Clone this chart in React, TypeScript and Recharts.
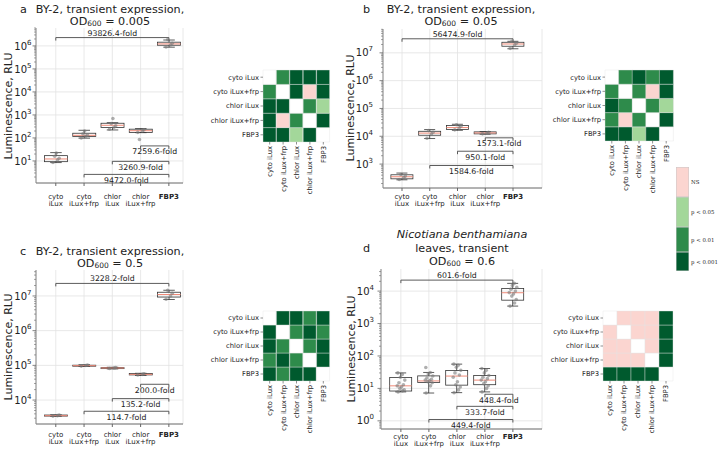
import React from 'react';
import {
  ComposedChart, Bar, Scatter, XAxis, YAxis, CartesianGrid, ReferenceLine,
  BarChart, Cell,
} from 'recharts';

const FONT = "'DejaVu Sans', sans-serif";
const INK = '#222222';
const GRID = '#e2e2e2';
const SPINE = '#666666';
const EDGE = '#333333';
const MEDIAN = '#f08a78';

/* ——— categories ——— */
const GROUPS = ['cyto iLux', 'cyto iLux+frp', 'chlor iLux', 'chlor iLux+frp', 'FBP3'];
const GROUP_LINES = [['cyto', 'iLux'], ['cyto', 'iLux+frp'], ['chlor', 'iLux'], ['chlor', 'iLux+frp'], ['FBP3']];

/* ——— box stats: [min, q1, median, q3, max] ——— */
const BOX_A = [
  [8.5, 9.3, 12.2, 17, 23],
  [98, 115, 130, 160, 215],
  [222, 283, 355, 435, 460],
  [170, 173, 206, 240, 255],
  [0.88e6, 1.07e6, 1.22e6, 1.45e6, 1.8e6],
];
const BOX_B = [
  [272, 295, 350, 412, 475],
  [8300, 10900, 13000, 15100, 17400],
  [16400, 17400, 20500, 24300, 27000],
  [11900, 12200, 13200, 14400, 14800],
  [1.4e7, 1.73e7, 2.08e7, 2.4e7, 2.6e7],
];
const BOX_C = [
  [3400, 3450, 3550, 3700, 3750],
  [93000, 95000, 98000, 101000, 104000],
  [79000, 81000, 84000, 86000, 88000],
  [51000, 53000, 55000, 58000, 59000],
  [7.9e6, 9.3e6, 1.1e7, 1.28e7, 1.46e7],
];
const BOX_D = [
  [7.8, 8.3, 12, 21.7, 30],
  [7.2, 15.1, 17, 24.3, 31],
  [7.4, 12.6, 24, 35.5, 56],
  [7.8, 13, 18, 25, 41],
  [3450, 5250, 8900, 12000, 17300],
];

/* ——— individual measurements ——— */
const PTS_A = [
  [8.5, 11, 13, 16, 22],
  [100, 118, 132, 150, 200],
  [240, 290, 340, 420, 700],
  [175, 200, 225, 85],
  [0.9e6, 1.1e6, 1.3e6, 1.9e6],
];
const PTS_B = [
  [280, 330, 370, 420],
  [8500, 12000, 14000, 16000],
  [17000, 20000, 23000, 26000],
  [12200, 13000, 13800],
  [1.45e7, 1.9e7, 2.2e7, 2.6e7],
];
const PTS_C = [
  [3450, 3550, 3700],
  [95000, 99000, 102000],
  [81000, 84000, 86000],
  [53000, 55000, 57000],
  [8e6, 1.0e7, 1.2e7, 1.45e7],
];
const PTS_D = [
  [7.8, 8.4, 9, 10, 11, 12, 13, 15, 18, 22, 27, 30],
  [7.2, 12, 15, 16, 17, 18, 19, 21, 24, 28, 31, 44],
  [7.4, 9, 11, 13, 16, 22, 26, 30, 36, 45, 52, 56],
  [7.8, 10, 12, 14, 16, 18, 20, 22, 25, 30, 36, 41],
  [3450, 4300, 5500, 7000, 8200, 9000, 10000, 11500, 13000, 15000, 17300],
];
const JITTER = [-0.1, 0.06, 0.12, -0.04, 0.02, -0.13, 0.09, -0.07, 0.14, -0.02, 0.05, -0.11];

/* ——— fold-change brackets ——— */
type Fold = { from: number; to: number; y: number; label: string; over?: boolean };
const FOLD_A: Fold[] = [
  { from: 0, to: 4, y: 2.3e6, label: '93826.4-fold', over: true },
  { from: 3, to: 4, y: 45, label: '7259.6-fold' },
  { from: 2, to: 4, y: 9.6, label: '3260.9-fold' },
  { from: 1, to: 4, y: 2.6, label: '9472.0-fold' },
];
const FOLD_B: Fold[] = [
  { from: 0, to: 4, y: 3.2e7, label: '56474.9-fold', over: true },
  { from: 3, to: 4, y: 8800, label: '1573.1-fold' },
  { from: 2, to: 4, y: 2900, label: '950.1-fold' },
  { from: 1, to: 4, y: 890, label: '1584.6-fold' },
];
const FOLD_C: Fold[] = [
  { from: 0, to: 4, y: 2.3e7, label: '3228.2-fold', over: true },
  { from: 3, to: 4, y: 28500, label: '200.0-fold' },
  { from: 2, to: 4, y: 11000, label: '135.2-fold' },
  { from: 1, to: 4, y: 4750, label: '114.7-fold' },
];
const FOLD_D: Fold[] = [
  { from: 0, to: 4, y: 21800, label: '601.6-fold', over: true },
  { from: 3, to: 4, y: 6.6, label: '448.4-fold' },
  { from: 2, to: 4, y: 2.8, label: '333.7-fold' },
  { from: 1, to: 4, y: 1.1, label: '449.4-fold' },
];

const TICKS_A = [1e1, 1e2, 1e3, 1e4, 1e5, 1e6];
const TICKS_B = [1e3, 1e4, 1e5, 1e6, 1e7];
const TICKS_C = [1e4, 1e5, 1e6, 1e7];
const TICKS_D = [1e0, 1e1, 1e2, 1e3, 1e4];

/* ——— pairwise significance: 0 self, 1 p<0.05, 2 p<0.01, 3 p<0.001, 4 NS ——— */
const HEAT_A = [
  [0, 2, 3, 3, 3],
  [2, 0, 3, 4, 3],
  [3, 3, 0, 2, 1],
  [3, 4, 2, 0, 3],
  [3, 3, 1, 3, 0],
];
const HEAT_B = [
  [0, 2, 3, 2, 3],
  [2, 0, 2, 4, 3],
  [3, 2, 0, 2, 1],
  [2, 4, 2, 0, 3],
  [3, 3, 1, 3, 0],
];
const HEAT_C = [
  [0, 3, 3, 2, 3],
  [3, 0, 2, 3, 2],
  [3, 2, 0, 2, 3],
  [2, 3, 2, 0, 3],
  [3, 2, 3, 3, 0],
];
const HEAT_D = [
  [0, 4, 4, 4, 3],
  [4, 0, 4, 4, 3],
  [4, 4, 0, 4, 3],
  [4, 4, 4, 0, 3],
  [3, 3, 3, 3, 0],
];
const SIG_COLORS = ['#ffffff', '#a3d79a', '#2e8b4b', '#005a2e', '#fbd5d0'];
const LEGEND_ITEMS = [
  { label: 'NS', code: 4 },
  { label: 'p < 0.05', code: 1 },
  { label: 'p < 0.01', code: 2 },
  { label: 'p < 0.001', code: 3 },
];

const L10 = Math.log10;
const YW = 30;
const XH = 24;

/* ——— box glyph drawn inside the whisker range bar ——— */
function BoxShape(props: any) {
  const { x, y, width, height, payload } = props;
  if (!payload) return null;
  const [mn, q1, md, q3, mx] = payload.stats;
  const top = Math.min(y, y + height);
  const h = Math.abs(height);
  const span = L10(mx) - L10(mn);
  const py = (v: number) => top + (h * (L10(mx) - L10(v))) / span;
  const cx = x + width / 2;
  const cap = width / 4;
  const s = { stroke: EDGE, strokeWidth: 0.8 };
  return (
    <g>
      <line x1={cx} x2={cx} y1={py(mx)} y2={py(q3)} {...s} />
      <line x1={cx} x2={cx} y1={py(q1)} y2={py(mn)} {...s} />
      <line x1={cx - cap} x2={cx + cap} y1={py(mx)} y2={py(mx)} {...s} />
      <line x1={cx - cap} x2={cx + cap} y1={py(mn)} y2={py(mn)} {...s} />
      <rect x={x} y={py(q3)} width={width} height={Math.max(py(q1) - py(q3), 1)} fill="none" {...s} />
      <line x1={x} x2={x + width} y1={py(md)} y2={py(md)} stroke={MEDIAN} strokeWidth={1} />
    </g>
  );
}

function PowTick({ y, payload, spineX, gap }: any) {
  const v = payload.value;
  const e = Math.round(L10(v));
  const major = Math.abs(L10(v) - e) < 1e-6;
  if (!major) {
    return <line x1={spineX - 2} x2={spineX} y1={y} y2={y} stroke={SPINE} strokeWidth={0.6} />;
  }
  return (
    <g>
      <line x1={spineX - 3.5} x2={spineX} y1={y} y2={y} stroke={SPINE} strokeWidth={0.8} />
      <text x={spineX - 3.5 - gap} y={y + 3.6} textAnchor="end" fontFamily={FONT} fill={INK}>
        <tspan fontSize={10}>10</tspan>
        <tspan fontSize={7} dy={-5}>{e}</tspan>
      </text>
    </g>
  );
}

function GroupTick({ x, y, payload, dy }: any) {
  const i = GROUPS.indexOf(payload.value);
  const lines = GROUP_LINES[i] || [];
  return (
    <text x={x} y={y} textAnchor="middle" fontSize={7} fontFamily={FONT} fill={INK} fontWeight={i === 4 ? 'bold' : 'normal'}>
      {lines.map((s, k) => (
        <tspan key={k} x={x} dy={k === 0 ? dy : 7.4}>{s}</tspan>
      ))}
    </text>
  );
}

function minorTicks([lo, hi]: number[]) {
  const out: number[] = [];
  for (let e = Math.floor(L10(lo)); e <= Math.ceil(L10(hi)); e++) {
    for (let m = 1; m <= 9; m++) {
      const v = m * Math.pow(10, e);
      if (v >= lo && v <= hi) out.push(v);
    }
  }
  return out;
}

type PanelCfg = {
  left: number; top: number; width: number; height: number;
  plot: { l: number; t: number; r: number; b: number };
  xDomain: number[]; yDomain: number[]; yTicks: number[];
  boxes: number[][]; points: number[][]; folds: Fold[];
  drop: number; tickDy: number; gap: number;
};

function BoxPanel(p: PanelCfg) {
  const { plot, width, height } = p;
  const W = plot.r - plot.l;
  const [d0, d1] = p.xDomain;
  const band = W / (d1 - d0);
  const padL = (-d0 - 0.5) * band;
  const padR = (d1 - 4.5) * band;
  const rows = GROUPS.map((name, i) => ({ name, range: [p.boxes[i][0], p.boxes[i][4]], stats: p.boxes[i] }));
  const pts = p.points.flatMap((vals, i) => vals.map((v, k) => ({ x: i + JITTER[k % JITTER.length], y: v })));
  const allTicks = minorTicks(p.yDomain);
  const br = { stroke: '#4a4a4a', strokeWidth: 0.9 };
  return (
    <div style={{ position: 'absolute', left: p.left, top: p.top }}>
      <ComposedChart
        width={width}
        height={height}
        data={rows}
        margin={{ top: plot.t, left: plot.l - YW, right: width - plot.r, bottom: height - plot.b - XH }}
        barCategoryGap="10%"
      >
        <CartesianGrid stroke={GRID} strokeWidth={0.8} horizontalValues={p.yTicks} />
        <XAxis
          dataKey="name"
          type="category"
          padding={{ left: padL, right: padR }}
          height={XH}
          interval={0}
          tickSize={3}
          tickMargin={2}
          axisLine={{ stroke: SPINE }}
          tickLine={{ stroke: SPINE }}
          tick={(t: any) => <GroupTick {...t} dy={p.tickDy} />}
        />
        <XAxis xAxisId="n" dataKey="x" type="number" domain={p.xDomain} allowDataOverflow hide />
        <YAxis
          scale="log"
          type="number"
          domain={p.yDomain}
          allowDataOverflow
          ticks={allTicks}
          interval={0}
          width={YW}
          axisLine={{ stroke: '#8a8a8a' }}
          tickLine={false}
          tickSize={0}
          tickMargin={0}
          tick={(t: any) => <PowTick {...t} spineX={plot.l} gap={p.gap} />}
        />
        <Bar dataKey="range" isAnimationActive={false} shape={(s: any) => <BoxShape {...s} />} />
        <Scatter
          xAxisId="n"
          data={pts}
          dataKey="y"
          isAnimationActive={false}
          shape={(s: any) => <circle cx={s.cx} cy={s.cy} r={1.8} fill="#7a7a7a" fillOpacity={0.6} />}
        />
        {p.folds.flatMap((f, k) => [
          <ReferenceLine
            key={`h${k}`}
            xAxisId="n"
            segment={[{ x: f.from, y: f.y }, { x: f.to, y: f.y }]}
            {...br}
            label={(lp: any) => {
              const vb = lp.viewBox || {};
              return (
                <text
                  x={vb.x + vb.width / 2}
                  y={f.over ? vb.y - 2 : vb.y + 8.5}
                  textAnchor="middle"
                  fontSize={7.8}
                  fontFamily={FONT}
                  fill={INK}
                >
                  {f.label}
                </text>
              );
            }}
          />,
          <ReferenceLine key={`l${k}`} xAxisId="n" segment={[{ x: f.from, y: f.y }, { x: f.from, y: f.y / p.drop }]} {...br} />,
          <ReferenceLine key={`r${k}`} xAxisId="n" segment={[{ x: f.to, y: f.y }, { x: f.to, y: f.y / p.drop }]} {...br} />,
        ])}
      </ComposedChart>
    </div>
  );
}

function ColTick({ x, y, payload }: any) {
  return (
    <text transform={`translate(${x + 2.4},${y}) rotate(-90)`} textAnchor="end" fontSize={6.8} fontFamily={FONT} fill={INK}>
      {payload.value}
    </text>
  );
}

function RowTick({ x, y, payload }: any) {
  return (
    <text x={x} y={y + 2.4} textAnchor="end" fontSize={6.8} fontFamily={FONT} fill={INK}>
      {GROUPS[4 - Math.floor(payload.value)]}
    </text>
  );
}

function HeatPanel({ gx0, gy0, gx1, gy1, matrix }: { gx0: number; gy0: number; gx1: number; gy1: number; matrix: number[][] }) {
  const data = GROUPS.map((name) => ({ name, r0: 1, r1: 1, r2: 1, r3: 1, r4: 1 }));
  const mT = 30, mL = 5, mR = 10, mB = 8, yW = 62, xH = 56;
  return (
    <div style={{ position: 'absolute', left: gx0 - mL - yW, top: gy0 - mT }}>
      <BarChart
        width={gx1 - gx0 + mL + yW + mR}
        height={gy1 - gy0 + mT + xH + mB}
        data={data}
        margin={{ top: mT, left: mL, right: mR, bottom: mB }}
        barCategoryGap={0}
      >
        <XAxis dataKey="name" height={xH} interval={0} axisLine={false} tickSize={2.5} tickMargin={1.5} tickLine={{ stroke: '#444', strokeWidth: 0.6 }} tick={(t: any) => <ColTick {...t} />} />
        <YAxis
          type="number"
          domain={[0, 5]}
          ticks={[0.5, 1.5, 2.5, 3.5, 4.5]}
          interval={0}
          width={yW}
          axisLine={false}
          tickSize={2.5}
          tickMargin={1.5}
          tickLine={{ stroke: '#444', strokeWidth: 0.6 }}
          tick={(t: any) => <RowTick {...t} />}
        />
        {[4, 3, 2, 1, 0].map((i) => (
          <Bar key={i} dataKey={`r${i}`} stackId="s" isAnimationActive={false}>
            {matrix[i].map((c, j) => (
              <Cell key={j} fill={SIG_COLORS[c]} stroke="#e4e4e4" strokeWidth={0.4} />
            ))}
          </Bar>
        ))}
      </BarChart>
    </div>
  );
}

const PANELS: (PanelCfg & { key: string })[] = [
  {
    key: 'a', left: 0, top: 0, width: 190, height: 215,
    plot: { l: 36, t: 28, r: 183, b: 183 },
    xDomain: [-0.7, 4.5], yDomain: [1.1, 6.0e6], yTicks: TICKS_A,
    boxes: BOX_A, points: PTS_A, folds: FOLD_A, drop: 1.35, tickDy: 10.5, gap: 1,
  },
  {
    key: 'b', left: 340, top: 0, width: 210, height: 225,
    plot: { l: 43, t: 29, r: 202, b: 188 },
    xDomain: [-0.685, 5.045], yDomain: [138, 7.2e7], yTicks: TICKS_B,
    boxes: BOX_B, points: PTS_B, folds: FOLD_B, drop: 1.28, tickDy: 5.5, gap: 6.5,
  },
  {
    key: 'c', left: 0, top: 236, width: 190, height: 218,
    plot: { l: 36, t: 34, r: 183, b: 188 },
    xDomain: [-0.7, 4.5], yDomain: [2040, 5.6e7], yTicks: TICKS_C,
    boxes: BOX_C, points: PTS_C, folds: FOLD_C, drop: 1.22, tickDy: 7.5, gap: 1,
  },
  {
    key: 'd', left: 340, top: 236, width: 210, height: 223,
    plot: { l: 41, t: 33, r: 202, b: 193 },
    xDomain: [-0.71, 5.04], yDomain: [0.56, 4.8e4], yTicks: TICKS_D,
    boxes: BOX_D, points: PTS_D, folds: FOLD_D, drop: 1.24, tickDy: 4.5, gap: 3.5,
  },
];

const OD = (v: string) => (
  <span>
    OD<span style={{ fontSize: 7.5, verticalAlign: '-1px' }}>600</span> = {v}
  </span>
);

function TitleBlock({ letter, lines, cx, y0, step, letterX, letterLine }: any) {
  return (
    <>
      {lines.map((ln: React.ReactNode, k: number) => (
        <div
          key={k}
          style={{ position: 'absolute', left: cx - 100, top: y0 + k * step - step / 2, width: 200, height: step, textAlign: 'center', fontSize: 11.2, lineHeight: `${step}px`, whiteSpace: 'nowrap' }}
        >
          {ln}
        </div>
      ))}
      <div style={{ position: 'absolute', left: letterX, top: y0 + letterLine * step - step / 2, height: step, fontSize: 11.2, lineHeight: `${step}px` }}>{letter}</div>
    </>
  );
}

function YLabel({ cx, cy }: { cx: number; cy: number }) {
  return (
    <div
      style={{ position: 'absolute', left: cx - 60, top: cy - 7, width: 120, height: 14, lineHeight: '14px', textAlign: 'center', fontSize: 11, transform: 'rotate(-90deg)', whiteSpace: 'nowrap' }}
    >
      Luminescence, RLU
    </div>
  );
}

export default function App() {
  return (
    <div style={{ position: 'absolute', left: 0, top: 0, width: 720, height: 453, background: '#fff', overflow: 'hidden', fontFamily: FONT, color: INK }}>
      {PANELS.map(({ key, ...p }) => <BoxPanel key={key} {...p} />)}

      <HeatPanel gx0={263} gy0={70} gx1={330} gy1={142} matrix={HEAT_A} />
      <HeatPanel gx0={605} gy0={70} gx1={673} gy1={141} matrix={HEAT_B} />
      <HeatPanel gx0={263} gy0={311} gx1={330} gy1={381} matrix={HEAT_C} />
      <HeatPanel gx0={603} gy0={311} gx1={673} gy1={381} matrix={HEAT_D} />

      <TitleBlock letter="a" lines={['BY-2, transient expression,', OD('0.005')]} cx={110} y0={10} step={12} letterX={20} letterLine={0} />
      <TitleBlock letter="b" lines={['BY-2, transient expression,', OD('0.05')]} cx={461} y0={10} step={12} letterX={363} letterLine={0} />
      <TitleBlock letter="c" lines={['BY-2, transient expression,', OD('0.5')]} cx={110} y0={252} step={12} letterX={20} letterLine={0} />
      <TitleBlock
        letter="d"
        lines={[<i key="i">Nicotiana benthamiana</i>, 'leaves, transient', OD('0.6')]}
        cx={462}
        y0={235}
        step={13.5}
        letterX={363}
        letterLine={1}
      />

      <YLabel cx={9} cy={106} />
      <YLabel cx={351} cy={108} />
      <YLabel cx={9} cy={347} />
      <YLabel cx={352} cy={349} />

      {/* significance legend */}
      {LEGEND_ITEMS.map((it, k) => {
        const tops = [167, 197, 227, 252, 271];
        return (
          <React.Fragment key={it.label}>
            <div style={{ position: 'absolute', left: 676, top: tops[k], width: 13, height: tops[k + 1] - tops[k], background: SIG_COLORS[it.code], boxShadow: 'inset 0 0 0 0.5px #c8c8c8' }} />
            <div style={{ position: 'absolute', left: 691, top: (tops[k] + tops[k + 1]) / 2 - 4, fontSize: 5.4, lineHeight: '8px', fontFamily: "'DejaVu Serif', serif", whiteSpace: 'nowrap' }}>
              {it.label}
            </div>
          </React.Fragment>
        );
      })}
    </div>
  );
}
